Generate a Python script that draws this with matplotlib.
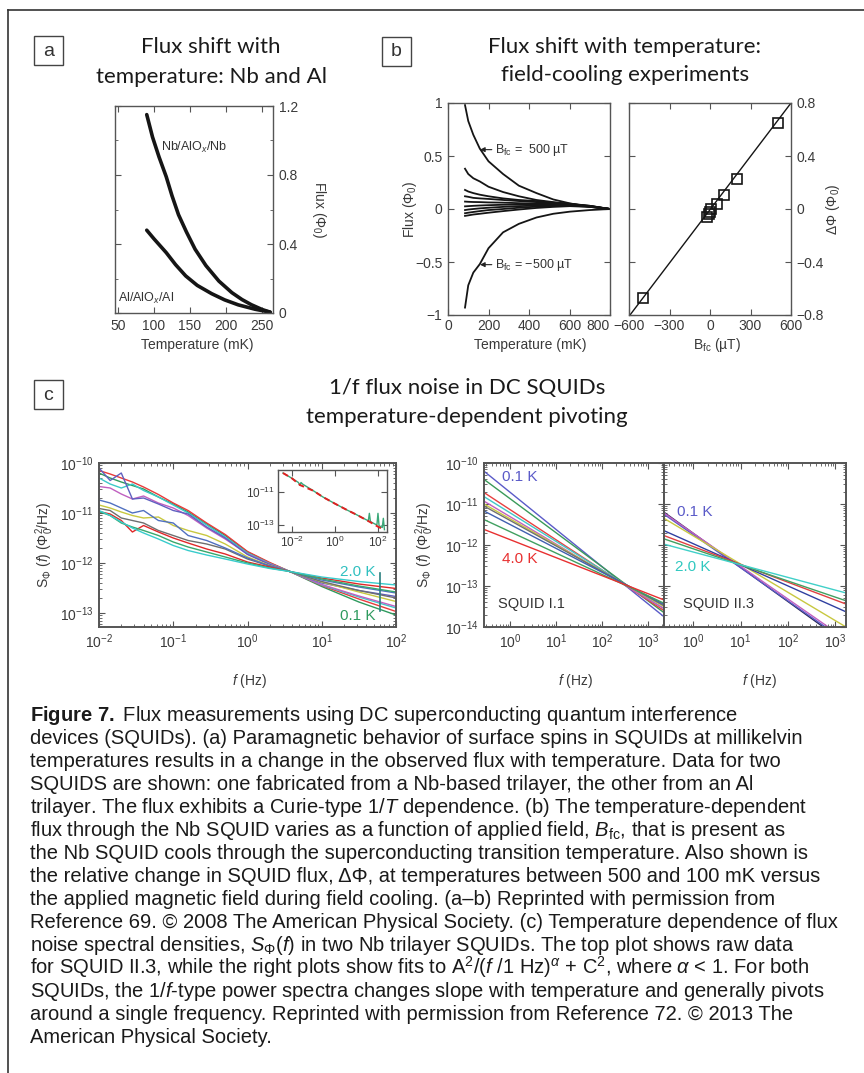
import numpy as np
import matplotlib
matplotlib.use('Agg')
import matplotlib.pyplot as plt
from matplotlib.patches import Rectangle
from matplotlib.lines import Line2D
from matplotlib import font_manager
from matplotlib.ticker import MultipleLocator, NullFormatter

W, H = 864, 1073

# ---- panel a: flux vs temperature (Nb and Al SQUIDs)
a_nb_T = [90, 98, 107, 117, 125, 134, 145, 157, 172, 190, 208, 222, 235, 250, 261]
a_nb_flux = [1.15, 1.02, 0.905, 0.79, 0.68, 0.57, 0.47, 0.37, 0.275, 0.185, 0.118, 0.078, 0.048, 0.02, 0.005]
a_al_T = [90, 100, 117, 130, 144, 160, 180, 198, 217, 240, 261]
a_al_flux = [0.48, 0.43, 0.35, 0.28, 0.215, 0.16, 0.112, 0.076, 0.047, 0.022, 0.005]
a_xticks = [50, 100, 150, 200, 250]
a_yticks = [0, 0.4, 0.8, 1.2]
a_ylabels = ['0', '0.4', '0.8', '1.2']

# ---- panel b (left): field-cooling flux vs temperature
b_T = [84, 100, 125, 157, 200, 272, 350, 437, 520, 602, 700, 800]
b_curves = [
    [0.98, 0.83, 0.70, 0.57, 0.45, 0.33, 0.22, 0.15, 0.09, 0.053, 0.02, 0.0],
    [0.38, 0.33, 0.29, 0.26, 0.21, 0.16, 0.12, 0.085, 0.065, 0.047, 0.025, 0.0],
    [0.18, 0.165, 0.15, 0.135, 0.12, 0.10, 0.085, 0.075, 0.06, 0.05, 0.03, 0.0],
    [0.12, 0.115, 0.105, 0.10, 0.095, 0.085, 0.075, 0.065, 0.055, 0.047, 0.03, 0.0],
    [0.07, 0.068, 0.066, 0.065, 0.062, 0.06, 0.055, 0.05, 0.047, 0.043, 0.028, 0.0],
    [0.025, 0.027, 0.03, 0.033, 0.036, 0.04, 0.042, 0.043, 0.042, 0.04, 0.026, 0.0],
    [-0.01, -0.005, 0.0, 0.006, 0.012, 0.02, 0.027, 0.032, 0.035, 0.036, 0.024, 0.0],
    [-0.04, -0.035, -0.028, -0.02, -0.01, 0.0, 0.012, 0.022, 0.028, 0.032, 0.022, 0.0],
    [-0.065, -0.06, -0.052, -0.045, -0.035, -0.02, -0.005, 0.01, 0.02, 0.027, 0.02, 0.0],
    [-0.93, -0.72, -0.60, -0.52, -0.37, -0.22, -0.14, -0.08, -0.045, -0.025, -0.01, 0.0],
]
b_xticks = [0, 200, 400, 600, 800]
b_yticks = [-1, -0.5, 0, 0.5, 1]
b_ylabels = ['\u22121', '\u22120.5', '0', '0.5', '1']

# ---- panel b (right): delta flux vs cooling field
b2_B = [-500, -20, -10, 0, 10, 50, 100, 200, 500]
b2_dphi = [-0.675, -0.06, -0.04, -0.02, 0.0, 0.04, 0.105, 0.225, 0.65]
b2_fit_B = [-600, 600]
b2_fit_dphi = [-0.81, 0.80]
b2_xticks = [-600, -300, 0, 300, 600]
b2_yticks = [-0.8, -0.4, 0, 0.4, 0.8]
b2_ylabels = ['\u22120.8', '\u22120.4', '0', '0.4', '0.8']

# ---- panel c (left): raw noise spectra, log10 values
c_logf = [-2.0, -1.85, -1.7, -1.55, -1.4, -1.2, -1.0, -0.8, -0.55, -0.3, 0.0, 0.3, 0.57, 1.0, 1.5, 2.0]
c_logS = [
    [-10.2, -10.3, -10.38, -10.45, -10.52, -10.68, -10.82, -10.98, -11.22, -11.45, -11.78, -12.0, -12.17, -12.47, -12.78, -13.04],
    [-10.15, -10.22, -10.3, -10.38, -10.48, -10.63, -10.8, -10.95, -11.2, -11.43, -11.77, -11.99, -12.17, -12.45, -12.72, -12.97],
    [-10.3, -10.42, -10.5, -10.42, -10.55, -10.68, -10.84, -11.0, -11.24, -11.48, -11.8, -12.01, -12.17, -12.44, -12.68, -12.9],
    [-10.47, -10.5, -10.62, -10.72, -10.66, -10.8, -10.9, -11.05, -11.3, -11.52, -11.82, -12.02, -12.17, -12.43, -12.66, -12.87],
    [-10.1, -10.35, -10.2, -10.72, -10.7, -10.82, -10.95, -11.02, -11.28, -11.5, -11.83, -12.03, -12.17, -12.4, -12.55, -12.67],
    [-10.84, -10.9, -10.98, -11.05, -11.1, -11.08, -11.25, -11.35, -11.45, -11.62, -11.88, -12.05, -12.17, -12.38, -12.58, -12.77],
    [-10.91, -10.95, -11.1, -11.15, -11.2, -11.35, -11.45, -11.55, -11.62, -11.72, -11.92, -12.06, -12.17, -12.37, -12.55, -12.7],
    [-10.74, -10.8, -10.9, -11.0, -10.95, -11.15, -11.2, -11.45, -11.55, -11.7, -11.9, -12.06, -12.17, -12.34, -12.48, -12.6],
    [-10.97, -11.02, -11.15, -11.38, -11.25, -11.38, -11.5, -11.6, -11.72, -11.82, -11.98, -12.08, -12.17, -12.3, -12.42, -12.51],
    [-10.97, -11.05, -11.2, -11.28, -11.35, -11.45, -11.58, -11.68, -11.78, -11.88, -12.0, -12.1, -12.17, -12.32, -12.46, -12.58],
    [-10.95, -11.05, -11.18, -11.3, -11.4, -11.52, -11.65, -11.75, -11.84, -11.92, -12.02, -12.11, -12.17, -12.28, -12.37, -12.44],
]
c_colors = ['#2e9a5e', '#e83a3a', '#3cc8c8', '#c060c0', '#6060c0', '#c8c840',
            '#6e6e6e', '#5070c0', '#e02828', '#38a86c', '#38cccc']
c_spike_f = [60, 60]
c_spike_logS = [-12.2, -12.95]

# inset: one spectrum with its fit
ins_logf = [-2.42, -2.0, -1.7, -1.63, -1.58, -1.5, -1.0, -0.56, 0.0, 0.56, 1.0, 1.55, 1.6, 1.65, 1.95, 2.0, 2.05, 2.2, 2.25, 2.3]
ins_data = [-9.88, -10.2, -10.45, -10.62, -10.45, -10.55, -10.95, -11.32, -11.72, -12.1, -12.38, -12.75, -12.3, -12.8, -13.0, -12.3, -13.04, -13.15, -12.6, -13.28]
ins_fit_logf = [-2.42, -2.0, -1.63, -1.0, -0.56, 0.0, 0.56, 1.0, 1.63, 2.0, 2.3]
ins_fit = [-9.88, -10.2, -10.6, -10.95, -11.32, -11.72, -12.1, -12.38, -12.82, -13.1, -13.3]

# ---- panel c (right): fitted spectra, log10 S at the two x-limits
sq1_logf = [-0.57, 3.35]
sq1_logS = [[-10.2, -13.75], [-10.4, -13.65], [-10.72, -13.6], [-10.82, -13.55], [-10.93, -13.55],
            [-11.0, -13.5], [-11.05, -13.48], [-11.17, -13.45], [-11.38, -13.42], [-11.62, -13.34]]
sq1_colors = ['#5a5ac8', '#3a9a5a', '#e84040', '#40c8c8', '#c060c0',
              '#c8c840', '#707070', '#4060b0', '#40a060', '#e83030']
sq2_logf = [-0.62, 3.23]
sq2_logS = [[-11.2, -14.4], [-11.25, -14.35], [-11.22, -14.3], [-11.35, -14.0],
            [-11.65, -13.63], [-11.77, -13.44], [-11.85, -13.36], [-11.98, -13.17]]
sq2_colors = ['#2a2a5a', '#5a5ac8', '#c060c0', '#c8c840', '#3040a0', '#e04040', '#40a060', '#40d0c8']

caption = [
    r'$\mathbf{Figure\ 7.}$ Flux measurements using DC superconducting quantum interference',
    'devices (SQUIDs). (a) Paramagnetic behavior of surface spins in SQUIDs at millikelvin',
    'temperatures results in a change in the observed flux with temperature. Data for two',
    'SQUIDS are shown: one fabricated from a Nb-based trilayer, the other from an Al',
    r'trilayer. The flux exhibits a Curie-type 1/$T$ dependence. (b) The temperature-dependent',
    r'flux through the Nb SQUID varies as a function of applied field, $B_{\mathrm{fc}}$, that is present as',
    'the Nb SQUID cools through the superconducting transition temperature. Also shown is',
    'the relative change in SQUID flux, \u0394\u03a6, at temperatures between 500 and 100 mK versus',
    'the applied magnetic field during field cooling. (a\u2013b) Reprinted with permission from',
    'Reference 69. \u00a9 2008 The American Physical Society. (c) Temperature dependence of flux',
    r'noise spectral densities, $S_\Phi(f)$ in two Nb trilayer SQUIDs. The top plot shows raw data',
    r'for SQUID II.3, while the right plots show fits to A$^2$/($f$ /1 Hz)$^\alpha$ + C$^2$, where $\alpha$ < 1. For both',
    r'SQUIDs, the 1/$f$-type power spectra changes slope with temperature and generally pivots',
    'around a single frequency. Reprinted with permission from Reference 72. \u00a9 2013 The',
    'American Physical Society.',
]

plt.rcParams['font.family'] = ['Liberation Sans', 'DejaVu Sans']
plt.rcParams['mathtext.fontset'] = 'custom'
plt.rcParams['mathtext.rm'] = 'Liberation Sans'
plt.rcParams['mathtext.it'] = 'Liberation Sans:italic'
plt.rcParams['mathtext.bf'] = 'Liberation Sans:bold'

TICK = '#3a3a3a'
SPINE = '#555555'
INK = '#1a1a1a'

fig = plt.figure(figsize=(W / 100, H / 100), dpi=100)


def rect(x0, y0, x1, y1):
    return [x0 / W, 1 - y1 / H, (x1 - x0) / W, (y1 - y0) / H]


def ftext(x, y, s, **kw):
    return fig.text(x / W, 1 - y / H, s, **kw)


def style(ax, size=10):
    for s in ax.spines.values():
        s.set_color(SPINE)
        s.set_linewidth(1.0)
    ax.tick_params(which='both', direction='in', top=True, right=True,
                   colors=SPINE, labelcolor=TICK, labelsize=size, pad=4)
    ax.tick_params(which='major', length=4)
    ax.tick_params(which='minor', length=2)


# outer frame (left and top edges only)
fig.add_artist(Line2D([8 / W, 8 / W], [1 - 10 / H, 0], color='#333333', lw=1.2, transform=fig.transFigure))
fig.add_artist(Line2D([8 / W, 1], [1 - 10 / H, 1 - 10 / H], color='#333333', lw=1.2, transform=fig.transFigure))

# panel letters
for letter, (x0, y0) in zip('abc', [(34, 36), (382, 37), (34, 380)]):
    fig.add_artist(Rectangle((x0 / W, 1 - (y0 + 29) / H), 29 / W, 29 / H, transform=fig.transFigure,
                             fill=False, ec='#444444', lw=1.0))
    ftext(x0 + 14.5, y0 + 15, letter, fontsize=14, ha='center', va='center', color='#333333')

# titles
title_font = dict(family=['Lato', 'DejaVu Sans'], fontsize=16, ha='center', va='center', color=INK)
ftext(211, 47, 'Flux shift with', **title_font)
ftext(211, 77, 'temperature: Nb and Al', **title_font)
ftext(625, 47, 'Flux shift with temperature:', **title_font)
ftext(625, 75, 'field-cooling experiments', **title_font)
ftext(467, 388, '1/f flux noise in DC SQUIDs', **title_font)
ftext(467, 417, 'temperature-dependent pivoting', **title_font)

# ---- panel a
ax = fig.add_axes(rect(115, 106, 273, 313))
style(ax)
ax.plot(a_nb_T, a_nb_flux, color='#151515', lw=2.6, solid_capstyle='round', solid_joinstyle='round')
ax.plot(a_al_T, a_al_flux, color='#151515', lw=2.6, solid_capstyle='round', solid_joinstyle='round')
ax.set_xlim(46, 265)
ax.set_ylim(0, 1.2)
ax.set_xticks(a_xticks)
ax.set_yticks(a_yticks)
ax.set_yticklabels(a_ylabels)
ax.yaxis.set_minor_locator(MultipleLocator(0.2))
ax.tick_params(labelleft=False, labelright=True)
ax.text(110, 0.96, 'Nb/AlO$_x$/Nb', fontsize=9, color='#333333', ha='left', va='center')
ax.text(50, 0.087, 'Al/AlO$_x$/Al', fontsize=9, color='#333333', ha='left', va='center')
ftext(197, 345, 'Temperature (mK)', fontsize=10, ha='center', va='center', color=TICK)
ftext(319, 210, r'Flux ($\Phi_0$)', fontsize=10, ha='center', va='center', rotation=-90, color=TICK)

# ---- panel b left
ax = fig.add_axes(rect(448, 103, 610, 315))
style(ax)
for curve in b_curves:
    ax.plot(b_T, curve, color='#151515', lw=1.3)
ax.set_xlim(0, 800)
ax.set_ylim(-1, 1)
ax.set_xticks(b_xticks)
ax.set_yticks(b_yticks)
ax.set_yticklabels(b_ylabels)
ax.tick_params(axis='x', pad=3)
ax.get_xticklabels()[-1].set_horizontalalignment('right')
arrow = dict(arrowstyle='-|>', color='#222222', lw=0.8, mutation_scale=7, shrinkA=0, shrinkB=0)
ax.annotate('B$_{\\mathrm{fc}}$ =  500 \u00b5T', xy=(158, 0.56), xytext=(230, 0.56), fontsize=9,
            va='center', ha='left', color='#333333', arrowprops=arrow)
ax.annotate('B$_{\\mathrm{fc}}$ = \u2212500 \u00b5T', xy=(158, -0.525), xytext=(230, -0.525), fontsize=9,
            va='center', ha='left', color='#333333', arrowprops=arrow)
ftext(530, 345, 'Temperature (mK)', fontsize=10, ha='center', va='center', color=TICK)
ftext(410, 209, r'Flux ($\Phi_0$)', fontsize=10, ha='center', va='center', rotation=90, color=TICK)

# ---- panel b right
ax = fig.add_axes(rect(629, 103, 791, 315))
style(ax)
ax.plot(b2_fit_B, b2_fit_dphi, color='#151515', lw=1.0)
ax.plot(b2_B, b2_dphi, 's', ms=7, mfc='none', mec='#151515', mew=1.2)
ax.set_xlim(-600, 600)
ax.set_ylim(-0.8, 0.8)
ax.set_xticks(b2_xticks)
ax.set_yticks(b2_yticks)
ax.set_yticklabels(b2_ylabels)
ax.tick_params(labelleft=False, labelright=True)
ax.tick_params(axis='x', pad=3)
ftext(717, 345, 'B$_{\\mathrm{fc}}$ (\u00b5T)', fontsize=10, ha='center', va='center', color=TICK)
ftext(833, 209, r'$\Delta\Phi$ ($\Phi_0$)', fontsize=10, ha='center', va='center', rotation=90, color=TICK)

# ---- panel c left
ax = fig.add_axes(rect(99, 463, 396, 627))
style(ax)
for vals, col in zip(c_logS, c_colors):
    ax.loglog(10 ** np.array(c_logf), 10 ** np.array(vals), color=col, lw=1.0)
ax.plot(c_spike_f, 10 ** np.array(c_spike_logS), color='#2a7f7f', lw=1.2)
ax.set_xlim(1e-2, 1e2)
ax.set_ylim(10 ** -13.28, 1e-10)
for s in ax.spines.values():
    s.set_linewidth(1.4)
ax.text(10 ** 1.25, 10 ** -12.18, '2.0 K', color='#30c0c0', fontsize=11, ha='left', va='center')
ax.text(10 ** 1.25, 10 ** -13.06, '0.1 K', color='#2e9a5e', fontsize=11, ha='left', va='center')
ftext(250, 681, '$f$ (Hz)', fontsize=10, ha='center', va='center', color=TICK)
ftext(45, 545, r'S$_\Phi$ ($f$) ($\Phi_0^2$/Hz)', fontsize=10, ha='center', va='center', rotation=90, color=TICK)

# inset
ax = fig.add_axes(rect(278, 470, 387, 532))
style(ax, size=8.5)
ax.tick_params(which='minor', length=0)
ax.loglog(10 ** np.array(ins_logf), 10 ** np.array(ins_data), color='#3aa878', lw=1.0)
ax.loglog(10 ** np.array(ins_fit_logf), 10 ** np.array(ins_fit), color='#e02020', lw=1.4, ls=(0, (3, 2)))
ax.set_xlim(10 ** -2.65, 10 ** 2.42)
ax.set_ylim(10 ** -13.42, 10 ** -9.7)
ax.set_xticks([1e-2, 1e0, 1e2])
ax.set_yticks([1e-13, 1e-11])
ax.xaxis.set_minor_formatter(NullFormatter())
ax.yaxis.set_minor_formatter(NullFormatter())
ax.tick_params(pad=2)

# ---- panel c right: SQUID I.1 and SQUID II.3
ax1 = fig.add_axes(rect(484, 463, 664, 627))
ax2 = fig.add_axes(rect(664, 463, 846, 627), sharey=ax1)
for a in (ax1, ax2):
    style(a)
    for s in a.spines.values():
        s.set_linewidth(1.4)
for vals, col in zip(sq1_logS, sq1_colors):
    ax1.loglog(10 ** np.array(sq1_logf), 10 ** np.array(vals), color=col, lw=1.0)
for vals, col in zip(sq2_logS, sq2_colors):
    ax2.loglog(10 ** np.array(sq2_logf), 10 ** np.array(vals), color=col, lw=1.0)
ax1.set_xlim(10 ** -0.57, 10 ** 3.35)
ax2.set_xlim(10 ** -0.62, 10 ** 3.23)
ax1.set_ylim(1e-14, 1e-10)
ax1.set_xticks([1e0, 1e1, 1e2, 1e3])
ax2.set_xticks([1e0, 1e1, 1e2, 1e3])
ax1.set_yticks([1e-14, 1e-13, 1e-12, 1e-11, 1e-10])
ax2.tick_params(labelleft=False)
ax1.text(10 ** -0.17, 10 ** -10.34, '0.1 K', color='#5a5ac8', fontsize=11, ha='left', va='center')
ax1.text(10 ** -0.17, 10 ** -12.34, '4.0 K', color='#e83030', fontsize=11, ha='left', va='center')
ax1.text(10 ** -0.26, 10 ** -13.44, 'SQUID I.1', color='#333333', fontsize=10.5, ha='left', va='center')
ax2.text(10 ** -0.34, 10 ** -11.2, '0.1 K', color='#5a5ac8', fontsize=11, ha='left', va='center')
ax2.text(10 ** -0.38, 10 ** -12.54, '2.0 K', color='#30c8c0', fontsize=11, ha='left', va='center')
ax2.text(10 ** -0.21, 10 ** -13.44, 'SQUID II.3', color='#333333', fontsize=10.5, ha='left', va='center')
ftext(576, 681, '$f$ (Hz)', fontsize=10, ha='center', va='center', color=TICK)
ftext(760, 681, '$f$ (Hz)', fontsize=10, ha='center', va='center', color=TICK)
ftext(425, 545, r'S$_\Phi$ ($f$) ($\Phi_0^2$/Hz)', fontsize=10, ha='center', va='center', rotation=90, color=TICK)

# ---- caption, sized so that the widest line spans the measured width
names = {f.name for f in font_manager.fontManager.ttflist}
cap_family = 'Liberation Sans Narrow' if 'Liberation Sans Narrow' in names else 'Liberation Sans'
cap_texts = [ftext(30, 721 + i * 23, line, fontsize=12, family=[cap_family, 'DejaVu Sans'],
                   ha='left', va='baseline', color=INK) for i, line in enumerate(caption)]
fig.canvas.draw()
renderer = fig.canvas.get_renderer()
widest = max(t.get_window_extent(renderer).width for t in cap_texts)
scale = 808 / widest
for t in cap_texts:
    t.set_fontsize(12 * scale)

fig.savefig('out.png', dpi=100, facecolor='white')
